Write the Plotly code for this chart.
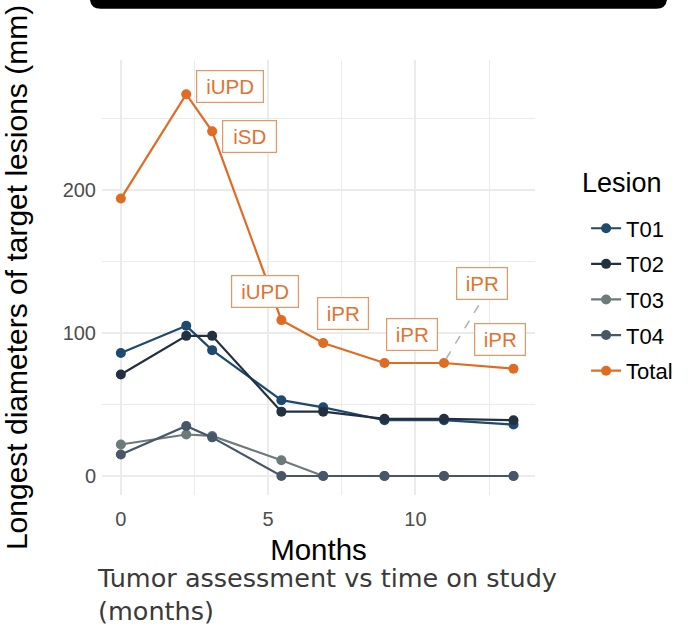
import plotly.graph_objects as go

# ---- data ----
months = [0, 2.22, 3.10, 5.45, 6.87, 8.95, 10.97, 13.33]
lesions = ["T01", "T02", "T03", "T04", "Total"]
t01 = [86, 105, 88, 53, 48, 39, 39, 36]
t02 = [71, 98, 98, 45, 45, 40, 40, 39]
t03 = [22, 29, 28, 11, 0, 0, 0, 0]
t04 = [15, 35, 27, 0, 0, 0, 0, 0]
total = [194, 267, 241, 109, 93, 79, 79, 75]
responses = ["", "iUPD", "iSD", "iUPD", "iPR", "iPR", "iPR", "iPR"]
x_ticks = [0, 5, 10]
y_ticks = [0, 100, 200]

# ---- styles ----
colors = {"T01": "#1d4a6e", "T02": "#233040", "T03": "#6c7a7a",
          "T04": "#475668", "Total": "#e06b22"}
series = {"T01": t01, "T02": t02, "T03": t03, "T04": t04, "Total": total}
# label offsets in pixels (xshift, yshift) relative to their point
label_offsets = [None, (44, 8), (37, -5), (-16, 29), (20, 29), (28, 29), (38, 80), (-14, 29)]
label_widths = {"iPR": 44, "iUPD": 60, "iSD": 47}
AX_FONT = "Liberation Sans, Arial, sans-serif"

fig = go.Figure()
for name in lesions:
    fig.add_trace(go.Scatter(
        x=months, y=series[name], mode="lines+markers", name=name,
        legendgroup=name,
        line=dict(color=colors[name], width=2.2),
        marker=dict(color=colors[name], size=10),
    ))

annotations = []
for xv, yv, lab, off in zip(months, total, responses, label_offsets):
    if not lab:
        continue
    annotations.append(dict(
        x=xv, y=yv, xref="x", yref="y", text=lab, showarrow=False,
        xshift=off[0], yshift=off[1],
        font=dict(family=AX_FONT, size=20.5, color="#e2722f"),
        bgcolor="white", bordercolor="#e8955f", borderwidth=1.2, borderpad=3,
        width=label_widths[lab], height=25,
    ))

# legend title (as a separate text for spacing control)
annotations.append(dict(
    x=1.103, y=0.717, xref="paper", yref="paper", xanchor="left", yanchor="middle",
    text="Lesion", showarrow=False,
    font=dict(family=AX_FONT, size=27, color="black"),
))

# caption
annotations.append(dict(
    x=-0.016, y=-0.2276, xref="paper", yref="paper", xanchor="left", yanchor="middle",
    text="Tumor assessment vs time on study<br>(months)", showarrow=False, align="left",
    font=dict(family="DejaVu Sans, sans-serif", size=25.5, color="#3a3a3a"),
))

shapes = []
# dashed connector for the repelled label at the 7th point
shapes.append(dict(
    type="line", xref="x", yref="y", xsizemode="pixel", ysizemode="pixel",
    xanchor=months[6], yanchor=total[6], x0=2, y0=4, x1=35, y1=58,
    line=dict(color="#b5b5b5", width=1.6, dash="dash"), layer="above",
))
# top black bar (screen artifact)
r = 0.025
x0, x1, yt, yb = -0.028, 1.305, 1.16, 1.118
shapes.append(dict(
    type="path", xref="paper", yref="paper",
    path=(f"M {x0},{yt} L {x0},{yb + r} Q {x0},{yb} {x0 + r},{yb} "
          f"L {x1 - r},{yb} Q {x1},{yb} {x1},{yb + r} L {x1},{yt} Z"),
    fillcolor="black", line=dict(width=0), layer="above",
))

fig.update_layout(
    width=690, height=626,
    margin=dict(l=102, r=153, t=60, b=131),
    paper_bgcolor="white", plot_bgcolor="white",
    font=dict(family=AX_FONT),
    showlegend=True,
    legend=dict(
        font=dict(size=22, color="black", family=AX_FONT),
        x=1.118, xanchor="left", y=0.661, yanchor="top",
        tracegroupgap=4, itemwidth=30, bgcolor="rgba(0,0,0,0)",
    ),
    annotations=annotations,
    shapes=shapes,
    xaxis=dict(
        range=[-0.64, 14.06], tickvals=x_ticks, ticktext=[str(v) for v in x_ticks],
        showgrid=True, gridcolor="#ebebeb", gridwidth=1.6,
        minor=dict(showgrid=True, dtick=2.5, gridcolor="#ebebeb", gridwidth=0.8),
        zeroline=False, showline=False, ticks="", ticklabelstandoff=10,
        tickfont=dict(size=20, color="#4d4d4d"),
        title=dict(text="Months", font=dict(size=29.5, color="black"), standoff=10),
    ),
    yaxis=dict(
        range=[-13.3, 290.9], tickvals=y_ticks, ticktext=[str(v) for v in y_ticks],
        showgrid=True, gridcolor="#ebebeb", gridwidth=1.6,
        minor=dict(showgrid=True, dtick=50, gridcolor="#ebebeb", gridwidth=0.8),
        zeroline=False, showline=False, ticks="", ticklabelstandoff=5,
        tickfont=dict(size=20, color="#4d4d4d"),
        title=dict(text="Longest diameters of target lesions (mm)",
                   font=dict(size=30, color="black"), standoff=27),
    ),
)

fig.write_html("out.html", config={"displayModeBar": False},
               post_script="document.body.style.margin='0';")
